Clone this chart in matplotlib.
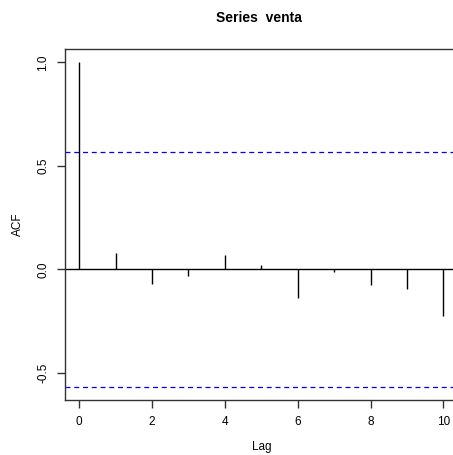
import matplotlib
matplotlib.use("Agg")
from matplotlib import pyplot as plt

# autocorrelation of the series 'venta'
lags = [0, 1, 2, 3, 4, 5, 6, 7, 8, 9, 10]
acf = [1.0, 0.077, -0.068, -0.031, 0.069, 0.022, -0.137, -0.013, -0.074, -0.095, -0.224]
ci = 0.566  # 1.96 / sqrt(12)

plt.rcParams['font.family'] = ['Liberation Sans', 'DejaVu Sans']

fig = plt.figure(figsize=(4.53, 4.55), dpi=100)
ax = fig.add_axes([64.7 / 453, 1 - 399.7 / 455, (457.9 - 64.7) / 453, (399.7 - 49.3) / 455])

ax.vlines(lags, 0, acf, color='black', linewidth=1)
ax.axhline(0, color='black', linewidth=1)
ax.axhline(ci, color='#0000FF', linestyle=(0, (4, 3)), linewidth=0.9)
ax.axhline(-ci, color='#0000FF', linestyle=(0, (4, 3)), linewidth=0.9)

ax.set_xlim(-0.4, 10.4)
ax.set_ylim(-0.629, 1.063)
ax.set_xticks([0, 2, 4, 6, 8, 10])
ax.set_yticks([-0.5, 0.0, 0.5, 1.0])
ax.set_yticklabels(['-0.5', '0.0', '0.5', '1.0'], rotation=90, va='center')
ax.tick_params(direction='out', length=6, width=1, labelsize=8.5, color='#333333', pad=6)
ax.tick_params(axis='y', pad=5)

for s in ax.spines.values():
    s.set_color('#333333')
    s.set_linewidth(1)

ax.set_xlabel('Lag', fontsize=8.5, labelpad=9)
ax.set_ylabel('ACF', fontsize=8.5, labelpad=10)
fig.text(259 / 453, 1 - 18 / 455, 'Series  venta', ha='center', va='center',
         fontsize=10, fontweight='bold')

plt.savefig('out.png', dpi=100)
